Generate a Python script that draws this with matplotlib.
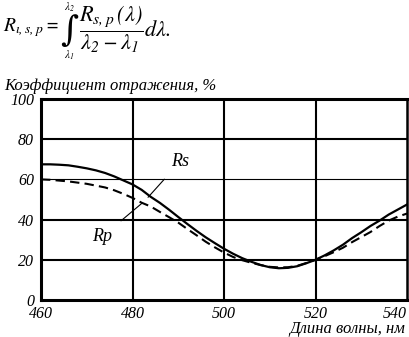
import matplotlib
matplotlib.use('Agg')
import matplotlib.pyplot as plt

plt.rcParams['font.family'] = ['Liberation Serif', 'DejaVu Serif']
plt.rcParams['font.style'] = 'italic'
plt.rcParams['mathtext.fontset'] = 'stix'

# wavelength, nm
wl = [460, 462, 464, 466, 468, 470, 472, 474, 476, 478, 480, 482, 484, 486, 488,
      490, 492, 494, 496, 498, 500, 502, 504, 506, 508, 510, 512, 514, 516, 518,
      520, 522, 524, 526, 528, 530, 532, 534, 536, 538, 540]
# reflectance, %
rs = [67.5, 67.5, 67.3, 67.0, 66.3, 65.5, 64.5, 63.2, 61.5, 59.5, 57.5, 54.8, 51.3, 48.3, 44.9,
      41.3, 37.8, 34.4, 31.2, 28.3, 25.5, 23.0, 20.8, 19.0, 17.4, 16.3, 15.8, 16.0, 16.8, 18.3,
      20.0, 22.2, 24.7, 27.5, 30.8, 33.7, 36.8, 39.5, 42.5, 45.0, 47.5]
rp = [60.0, 59.8, 59.4, 59.0, 58.4, 57.8, 56.9, 56.0, 54.6, 52.8, 50.8, 48.4, 46.5, 43.8, 41.2,
      38.5, 35.3, 32.2, 29.0, 26.2, 23.6, 21.4, 19.8, 18.5, 17.4, 16.5, 16.2, 16.3, 17.0, 18.4,
      20.0, 21.8, 23.8, 26.0, 28.8, 31.3, 33.8, 36.8, 39.5, 41.5, 43.0]

xticks = [460, 480, 500, 520, 540]
yticks = [0, 20, 40, 60, 80, 100]

W, H = 410, 337
fig = plt.figure(figsize=(W / 100, H / 100), dpi=100)
ax = fig.add_axes([41 / W, 1 - 300 / H, 366 / W, 201 / H])

def px(x, y):
    # pixel position (from top-left) -> figure fraction
    return x / W, 1 - y / H

# grid lines (the one at 60 is thinner)
for x in [480, 500, 520]:
    ax.axvline(x, color='black', lw=1.5, zorder=1)
for y in [20, 40, 80]:
    ax.axhline(y, color='black', lw=1.5, zorder=1)
ax.axhline(60, color='black', lw=0.8, zorder=1)

ax.plot(wl, rs, color='black', lw=1.6, zorder=3)
ax.plot(wl, rp, color='black', lw=1.5, dashes=(4.5, 2.5), zorder=3)

ax.set_xlim(460, 540)
ax.set_ylim(0, 100)
ax.set_xticks(xticks)
ax.set_yticks(yticks)
ax.tick_params(length=0, labelsize=11.5)
ax.tick_params(axis='y', pad=5)
ax.tick_params(axis='x', pad=4.5)
ax.get_xticklabels()[-1].set_horizontalalignment('right')
for side, w in [('left', 2.2), ('bottom', 2.2), ('top', 2.2), ('right', 1.8)]:
    ax.spines[side].set_linewidth(w)

# curve labels with leader lines
ax.annotate('Rs', xy=(483.4, 51.1), xytext=(490.4, 68.8), fontsize=13,
            ha='center', va='center',
            arrowprops=dict(arrowstyle='-', lw=0.8, color='black',
                            shrinkA=6, shrinkB=0))
ax.annotate('Rp', xy=(482.1, 48.2), xytext=(473.3, 31.4), fontsize=13,
            ha='center', va='center',
            arrowprops=dict(arrowstyle='-', lw=0.8, color='black',
                            shrinkA=6, shrinkB=0))

fig.text(*px(4, 90), 'Коэффициент отражения, %', fontsize=12,
         ha='left', va='baseline')
fig.text(*px(405, 333), 'Длина волны, нм', fontsize=12,
         ha='right', va='baseline')

# formula, assembled from pieces
fig.text(*px(3, 28), r'$R_{\iota,s,p} =$', fontsize=14, ha='left', va='center')
fig.text(*px(69, 31), '\u222b', fontsize=25, family='DejaVu Serif', style='normal',
         ha='center', va='center')
fig.text(*px(69, 7), r'$\lambda_2$', fontsize=8, ha='center', va='center')
fig.text(*px(69, 55), r'$\lambda_1$', fontsize=8, ha='center', va='center')
fig.text(*px(79, 29), r'$\dfrac{R_{s,p}\,(\lambda)}{\lambda_2-\lambda_1}\mathrm{d}\lambda.$',
         fontsize=16, ha='left', va='center')

fig.savefig('out.png', dpi=100)
